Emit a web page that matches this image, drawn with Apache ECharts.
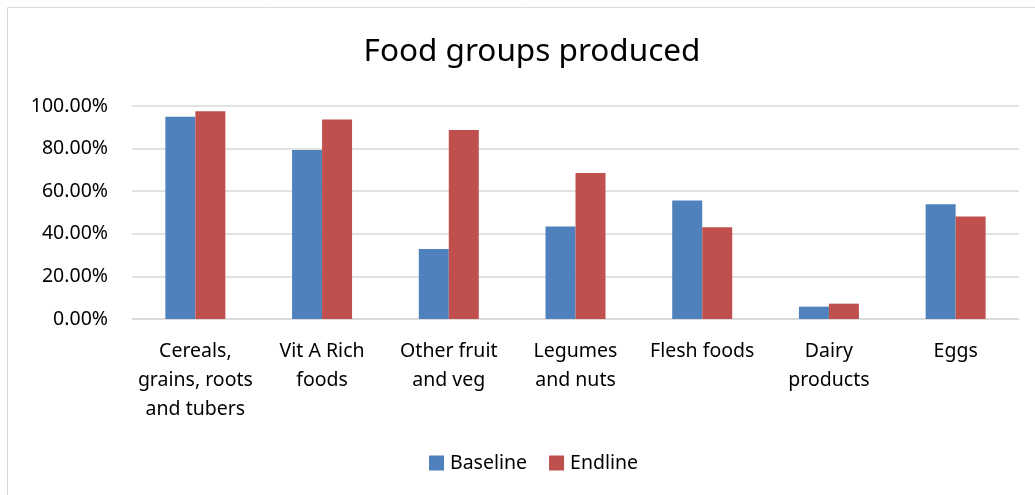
<!DOCTYPE html>
<html><head><meta charset="utf-8">
<script src="https://cdn.jsdelivr.net/npm/echarts@6/dist/echarts.min.js"></script>
<style>html,body{margin:0;padding:0;background:#fff}#c{width:1035px;height:495px}</style>
</head><body><div id="c"></div>
<script>
const categories = ["Cereals,\ngrains, roots\nand tubers", "Vit A Rich\nfoods", "Other fruit\nand veg", "Legumes\nand nuts", "Flesh foods", "Dairy\nproducts", "Eggs"];
const baseline = [0.950, 0.793, 0.329, 0.434, 0.556, 0.058, 0.539];
const endline = [0.975, 0.937, 0.887, 0.685, 0.431, 0.072, 0.481];
const yTicks = [0, 0.2, 0.4, 0.6, 0.8, 1.0];

const FONT = 'Noto Sans';
const chart = echarts.init(document.getElementById('c'));
chart.setOption({
  animation: false,
  backgroundColor: '#fff',
  graphic: [{type:'rect', shape:{x:7.5,y:7.5,width:1040,height:500}, style:{fill:'none',stroke:'#d9d9d9',lineWidth:1}, silent:true}],
  title: {text: 'Food groups produced', left: 527, top: 31, textAlign: 'center',
    textStyle: {fontFamily: FONT, fontSize: 31.5, fontWeight: 'normal', color: '#000'}},
  legend: {data: ['Baseline', 'Endline'], top: 448, left: 424, itemWidth: 15, itemHeight: 15, itemGap: 22,
    icon: 'rect', textStyle: {fontFamily: FONT, fontSize: 19.5, color: '#000', padding: [0,0,0,1]}},
  grid: {left: 132, right: 16, top: 106, bottom: 176, containLabel: false},
  xAxis: {type: 'category', data: categories,
    axisLine: {lineStyle: {color: '#d9d9d9', width: 1.5}}, axisTick: {show: false},
    axisLabel: {fontFamily: FONT, fontSize: 19.5, color: '#000', lineHeight: 29, margin: 18, interval: 0}},
  yAxis: {type: 'value', min: 0, max: 1, interval: 0.2,
    axisLabel: {fontFamily: FONT, fontSize: 19.5, color: '#000', margin: 24,
      formatter: v => (v*100).toFixed(2) + '%'},
    splitLine: {lineStyle: {color: '#d9d9d9', width: 1.5}}, axisLine: {show: false}, axisTick: {show: false}},
  series: [
    {name: 'Baseline', type: 'bar', data: baseline, barWidth: 30, barGap: '0%', itemStyle: {color: '#4F81BD'}},
    {name: 'Endline', type: 'bar', data: endline, barWidth: 30, barGap: '0%', itemStyle: {color: '#C0504D'}}
  ]
});
</script></body></html>
